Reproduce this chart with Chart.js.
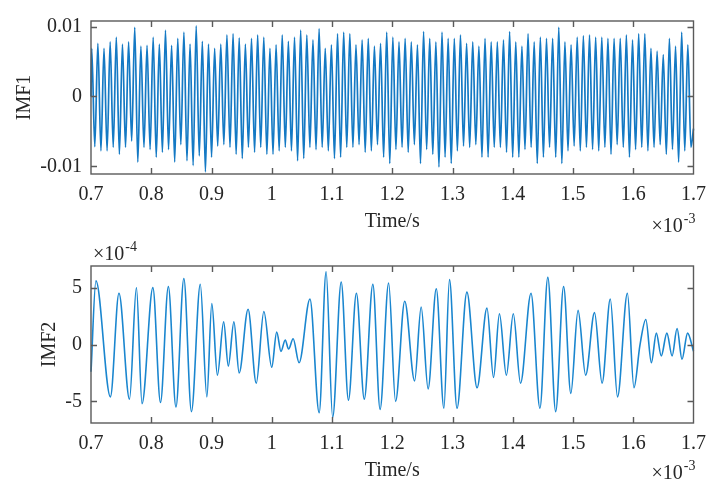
<!DOCTYPE html>
<html>
<head>
<meta charset="utf-8">
<title>IMF1 / IMF2</title>
<script src="https://cdn.jsdelivr.net/npm/chart.js@4.4.1/dist/chart.umd.min.js"></script>
<style>
  html, body { margin: 0; padding: 0; background: #ffffff; }
  #wrap { position: relative; width: 715px; height: 485px; }
  .panel { position: absolute; left: 0; width: 715px; }
  canvas { display: block; }
</style>
</head>
<body>
<div id="wrap">
  <div class="panel" style="top:0;height:240px"><canvas id="imf1" width="715" height="240"></canvas></div>
  <div class="panel" style="top:240px;height:245px"><canvas id="imf2" width="715" height="245"></canvas></div>
</div>
<script>
// Time axis in ms (labelled with a ×10^-3 exponent)
const timeTicks = [0.7, 0.8, 0.9, 1.0, 1.1, 1.2, 1.3, 1.4, 1.5, 1.6, 1.7];

// IMF1: successive maxima and minima of the fast component
const imf1Start = 0.7;
const imf1End = 1.7;
const imf1FirstPeak = 0.7012;   // ms
const imf1HalfPeriod = 0.0051;  // ms between a maximum and the next minimum
const imf1Peaks = [
  0.0069, 0.0076, 0.0069, 0.0078, 0.0085, 0.0075, 0.0078, 0.0099, 0.0072, 0.0073,
  0.0085, 0.0075, 0.0095, 0.0073, 0.0083, 0.0092, 0.0075, 0.0101, 0.0079, 0.0075,
  0.0069, 0.0075, 0.0088, 0.0090, 0.0084, 0.0075, 0.0083, 0.0088, 0.0085, 0.0069,
  0.0074, 0.0088, 0.0079, 0.0085, 0.0095, 0.0088, 0.0081, 0.0097, 0.0069, 0.0074,
  0.0090, 0.0092,
  0.0090, 0.0074, 0.0081, 0.0083, 0.0072, 0.0076, 0.0092, 0.0085, 0.0078, 0.0083,
  0.0078, 0.0074, 0.0093, 0.0083, 0.0078, 0.0092, 0.0083, 0.0083, 0.0088, 0.0076,
  0.0078, 0.0072, 0.0083, 0.0078, 0.0078, 0.0081, 0.0093, 0.0078, 0.0072, 0.0090,
  0.0078, 0.0085, 0.0083, 0.0083, 0.0099, 0.0078, 0.0074, 0.0085, 0.0087, 0.0088,
  0.0085, 0.0085, 0.0083, 0.0083, 0.0083, 0.0088, 0.0081, 0.0090, 0.0090, 0.0069,
  0.0065, 0.0060, 0.0083, 0.0072, 0.0092, 0.0074
];
const imf1Troughs = [
  -0.0072, -0.0078, -0.0078, -0.0073, -0.0083, -0.0073, -0.0064, -0.0094, -0.0073, -0.0076,
  -0.0087, -0.0080, -0.0076, -0.0094, -0.0069, -0.0092, -0.0099, -0.0085, -0.0108, -0.0087,
  -0.0071, -0.0069, -0.0073, -0.0083, -0.0089, -0.0073, -0.0080, -0.0073, -0.0083, -0.0083,
  -0.0078, -0.0073, -0.0078, -0.0092, -0.0089, -0.0073, -0.0076, -0.0073, -0.0078, -0.0089,
  -0.0087, -0.0073,
  -0.0073, -0.0069, -0.0080, -0.0078, -0.0069, -0.0087, -0.0096, -0.0076, -0.0073, -0.0080,
  -0.0069, -0.0096, -0.0076, -0.0083, -0.0101, -0.0087, -0.0096, -0.0078, -0.0071, -0.0073,
  -0.0069, -0.0087, -0.0087, -0.0073, -0.0073, -0.0080, -0.0087, -0.0087, -0.0076, -0.0073,
  -0.0096, -0.0087, -0.0073, -0.0087, -0.0096, -0.0078, -0.0071, -0.0078, -0.0073, -0.0076,
  -0.0078, -0.0073, -0.0083, -0.0069, -0.0073, -0.0087, -0.0076, -0.0073, -0.0078, -0.0073,
  -0.0069, -0.0083, -0.0076, -0.0094, -0.0078, -0.0073
];
const imf1StartValue = 0.0;
const imf1EndValue = -0.0046;
const imf1Ticks = [-0.01, 0, 0.01];
const imf1Range = [-0.0111, 0.0108];

// IMF2: extrema of the slower component (values ×10^-4)
const imf2Times = [
  0.7000, 0.7082, 0.7322, 0.7464, 0.7639, 0.7754, 0.7847, 0.8027, 0.8153, 0.8284,
  0.8410, 0.8541, 0.8667, 0.8814, 0.8923, 0.9005, 0.9098, 0.9202, 0.9279, 0.9372,
  0.9459, 0.9607, 0.9743, 0.9869, 1.0000, 1.0082, 1.0153, 1.0224, 1.0279, 1.0355,
  1.0454, 1.0634, 1.0787, 1.0902, 1.1011, 1.1153, 1.1273,
  1.1405, 1.1536, 1.1678, 1.1798, 1.1940, 1.2055, 1.2207, 1.2371, 1.2480, 1.2595,
  1.2731, 1.2857, 1.2950, 1.3075, 1.3239, 1.3408, 1.3572, 1.3681, 1.3779, 1.3894,
  1.4009, 1.4129, 1.4303, 1.4451, 1.4582, 1.4713, 1.4844, 1.4964, 1.5084, 1.5210,
  1.5357, 1.5483, 1.5619, 1.5739, 1.5903, 1.6012, 1.6110, 1.6209, 1.6301, 1.6383,
  1.6465, 1.6558, 1.6645, 1.6727, 1.6809, 1.6902, 1.7000
];
const imf2Values = [
  -2.4, 5.6, -4.6, 4.5, -4.8, 5.0, -5.2, 5.0, -5.1, 5.1,
  -5.5, 5.8, -5.9, 5.3, -4.6, 3.6, -2.7, 2.0, -1.9, 2.0,
  -2.5, 3.1, -3.4, 2.9, -2.0, 1.1, -0.6, 0.4, -0.4, 0.5,
  -1.6, 4.0, -6.0, 6.4, -6.4, 5.5, -4.9,
  4.5, -4.8, 5.3, -5.7, 5.4, -5.0, 3.8, -3.2, 3.3, -3.9,
  4.9, -5.6, 5.7, -5.6, 4.6, -3.8, 3.2, -2.9, 2.7, -2.7,
  2.7, -3.4, 4.5, -5.6, 5.9, -5.9, 5.1, -4.3, 3.0, -2.7,
  2.8, -3.4, 4.0, -4.6, 4.5, -3.8, -0.1, 2.2, -1.6, 1.0,
  -1.0, 1.0, -1.0, 1.4, -1.3, 1.0, -0.6
];
const imf2Ticks = [-5, 0, 5];
const imf2Range = [-6.9, 6.9];

// ---------------------------------------------------------------------------
const FONT = '"Liberation Serif", "Times New Roman", serif';
const TEXT = '#262626';
const AXIS = '#5a5a5a';

function imf1Points() {
  const pts = [{ x: imf1Start, y: imf1StartValue }];
  for (let i = 0; i < imf1Peaks.length; i++) {
    const tPeak = imf1FirstPeak + 2 * i * imf1HalfPeriod;
    pts.push({ x: tPeak, y: imf1Peaks[i] });
    pts.push({ x: tPeak + imf1HalfPeriod, y: imf1Troughs[i] });
  }
  pts.push({ x: imf1End, y: imf1EndValue });
  return pts;
}

function imf2Points() {
  return imf2Times.map((t, i) => ({ x: t, y: imf2Values[i] }));
}

function fmtTime(v) { return String(Number(v.toFixed(1))); }

// box, inward tick marks, axis titles and exponent labels
const framePlugin = {
  id: 'frame',
  afterDraw(chart, args, o) {
    const { ctx, chartArea: a } = chart;
    const xs = chart.scales.x, ys = chart.scales.y;
    ctx.save();
    ctx.strokeStyle = AXIS;
    ctx.lineWidth = 1.4;
    ctx.strokeRect(a.left, a.top, a.right - a.left, a.bottom - a.top);
    ctx.beginPath();
    const tl = 6;
    xs.ticks.forEach(t => {
      const px = Math.round(xs.getPixelForValue(t.value)) + 0.5;
      if (px <= a.left + 1 || px >= a.right - 1) return;
      ctx.moveTo(px, a.bottom); ctx.lineTo(px, a.bottom - tl);
      ctx.moveTo(px, a.top); ctx.lineTo(px, a.top + tl);
    });
    ys.ticks.forEach(t => {
      const py = Math.round(ys.getPixelForValue(t.value)) + 0.5;
      if (py <= a.top + 1 || py >= a.bottom - 1) return;
      ctx.moveTo(a.left, py); ctx.lineTo(a.left + tl, py);
      ctx.moveTo(a.right, py); ctx.lineTo(a.right - tl, py);
    });
    ctx.stroke();

    ctx.fillStyle = TEXT;
    ctx.font = '20px ' + FONT;
    ctx.textAlign = 'center';
    ctx.textBaseline = 'alphabetic';
    ctx.fillText('Time/s', (a.left + a.right) / 2, a.bottom + o.titleBase);

    ctx.save();
    ctx.translate(o.yTitleX, (a.top + a.bottom) / 2);
    ctx.rotate(-Math.PI / 2);
    ctx.textBaseline = 'middle';
    ctx.fillText(o.yTitle, 0, 0);
    ctx.restore();

    // ×10^-3 under the right end of the time axis
    drawExponent(ctx, '-3', a.right + 1, a.bottom + o.expBase, 'right');
    if (o.yExp) drawExponent(ctx, o.yExp, a.left + 2, a.top - 6, 'left');
    ctx.restore();
  }
};

function drawExponent(ctx, power, x, base, align) {
  ctx.textAlign = 'left';
  ctx.textBaseline = 'alphabetic';
  ctx.font = '20px ' + FONT;
  const main = '\u00D710';
  const wMain = ctx.measureText(main).width;
  ctx.font = '14px ' + FONT;
  const wPow = ctx.measureText(power).width;
  const x0 = align === 'right' ? x - wMain - wPow : x;
  ctx.font = '20px ' + FONT;
  ctx.fillText(main, x0, base);
  ctx.font = '14px ' + FONT;
  ctx.fillText(power, x0 + wMain + 1, base - 9);
}

function makeChart(id, points, lineColor, lineWidth, yRange, yTicks, yFmt, pad, xHeight, extra) {
  return new Chart(document.getElementById(id), {
    type: 'line',
    data: {
      datasets: [{
        data: points,
        borderColor: lineColor,
        borderWidth: lineWidth,
        pointRadius: 0,
        fill: false,
        cubicInterpolationMode: 'monotone',
        clip: 2
      }]
    },
    options: {
      responsive: false,
      animation: false,
      devicePixelRatio: 1,
      layout: { padding: pad },
      plugins: { legend: { display: false }, tooltip: { enabled: false }, frame: extra },
      scales: {
        x: {
          type: 'linear',
          min: timeTicks[0],
          max: timeTicks[timeTicks.length - 1],
          grid: { display: false, drawTicks: false },
          border: { display: false },
          afterBuildTicks: s => { s.ticks = timeTicks.map(v => ({ value: v })); },
          afterFit: s => { s.height = xHeight; },
          ticks: {
            autoSkip: false,
            maxRotation: 0,
            padding: 9,
            color: TEXT,
            font: { family: FONT, size: 20 },
            callback: v => fmtTime(v)
          }
        },
        y: {
          type: 'linear',
          min: yRange[0],
          max: yRange[1],
          grid: { display: false, drawTicks: false },
          border: { display: false },
          afterBuildTicks: s => { s.ticks = yTicks.map(v => ({ value: v })); },
          afterFit: s => { s.width = 91; },
          ticks: {
            autoSkip: false,
            padding: 9,
            color: TEXT,
            font: { family: FONT, size: 20 },
            callback: v => yFmt(v)
          }
        }
      }
    },
    plugins: [framePlugin]
  });
}

makeChart('imf1', imf1Points(), '#1479c4', 1.7, imf1Range, imf1Ticks,
  v => (v === 0 ? '0' : String(Number(v.toFixed(2)))),
  { left: 0, right: 14, top: 15, bottom: 0 }, 66,
  { yTitle: 'IMF1', yTitleX: 25, titleBase: 53, expBase: 58 });

makeChart('imf2', imf2Points(), '#1a86cf', 1.6, imf2Range, imf2Ticks,
  v => String(v),
  { left: 0, right: 14, top: 26, bottom: 0 }, 62,
  { yTitle: 'IMF2', yTitleX: 50, titleBase: 53, expBase: 56, yExp: '-4' });
</script>
</body>
</html>
